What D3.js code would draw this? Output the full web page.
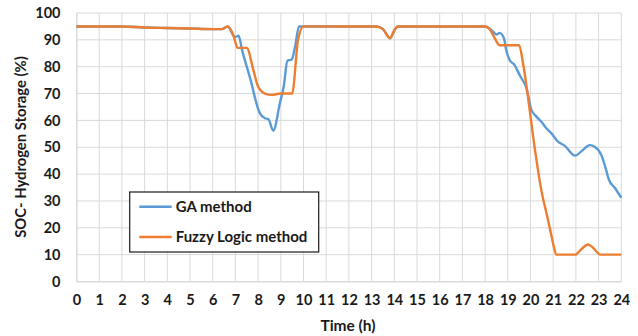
<!DOCTYPE html>
<html>
<head>
<meta charset="utf-8">
<script src="https://d3js.org/d3.v7.min.js"></script>
<style>
    body { margin: 0; background: #fff; }
    text { font-family: Lato, "Liberation Sans", sans-serif; font-weight: bold; fill: #1a1a1a; }
</style>
</head>
<body>
<svg id="chart" width="638" height="336"></svg>
<script>
    // values
    var gaTime = [0, 1, 2, 3, 4, 5, 6, 6.4, 6.66, 6.98, 7.14, 7.3, 7.64, 8.08, 8.3, 8.45, 8.67, 8.96, 9.14, 9.29, 9.48, 9.63, 9.8,
        13.2, 13.5, 13.81, 14.0, 14.16, 18.0, 18.3, 18.5, 18.64, 18.83, 18.93, 19.08, 19.3, 19.52, 19.82, 20.04, 20.26, 20.48,
        20.7, 20.92, 21.21, 21.5, 21.97, 22.31, 22.61, 22.83, 23.12, 23.3, 23.45, 23.71, 24];
    var gaSoc = [95, 95, 95, 94.6, 94.4, 94.2, 94, 94, 95, 91, 91.5, 86, 76, 62.6, 60.8, 60.5, 56.2, 66.4, 73.2, 82.2, 82.7, 87.5, 95,
        95, 94, 90.6, 93.5, 95, 95, 93.5, 92, 92.6, 90.6, 86.2, 82.5, 80.6, 76.9, 72, 63.9, 61.4, 59.5,
        57.1, 55.2, 52.1, 50.6, 46.9, 49, 50.8, 50.2, 47.1, 42.5, 38, 34.9, 31.2];

    var fuzzyTime = [0, 1, 2, 3, 4, 5, 6, 6.4, 6.66, 6.9, 7.1, 7.5, 7.79, 8.0, 8.3, 8.6, 9.0, 9.5, 9.76, 10.0,
        13.2, 13.5, 13.81, 14.0, 14.16, 18.0, 18.2, 18.4, 18.64, 19.5, 19.67, 19.89, 20.1, 20.33, 20.5, 20.7, 20.9,
        21.02, 21.14, 21.97, 22.24, 22.53, 22.7, 23.09, 24];
    var fuzzySoc = [95, 95, 95, 94.6, 94.4, 94.2, 94, 94, 95, 92, 87, 87, 78.8, 72.6, 70, 69.5, 70, 70, 90, 95,
        95, 94, 90.6, 93.5, 95, 95, 94, 91, 88, 88, 81.3, 68.8, 55, 41.5, 33, 25.6, 18,
        13.2, 10, 10, 12, 13.8, 13, 10, 10];

    var xTicks = d3.range(0, 25, 1);
    var yTicks = d3.range(0, 101, 10);
    var seriesNames = ["GA method", "Fuzzy Logic method"];
    var seriesColors = ["#5B9BD5", "#ED7D31"];

    var svg = d3.select("#chart");
    var x = d3.scaleLinear().domain([0, 24]).range([76.5, 621.3]);
    var y = d3.scaleLinear().domain([0, 100]).range([281.5, 13]);

    // grid
    var grid = svg.append("g");
    grid.selectAll(".vx").data(xTicks).enter().append("line")
        .attr("x1", d => x(d)).attr("x2", d => x(d))
        .attr("y1", y(0)).attr("y2", y(100))
        .attr("stroke", "#d9d9d9").attr("stroke-width", 1);
    grid.selectAll(".hy").data(yTicks).enter().append("line")
        .attr("x1", x(0)).attr("x2", x(24))
        .attr("y1", d => y(d)).attr("y2", d => y(d))
        .attr("stroke", "#d9d9d9").attr("stroke-width", 1);

    // axes (labels only, lines come from grid)
    var xAxis = svg.append("g").attr("transform", "translate(0," + y(0) + ")")
        .call(d3.axisBottom(x).tickValues(xTicks).tickSize(0).tickPadding(10).tickFormat(d3.format("d")));
    var yAxis = svg.append("g").attr("transform", "translate(" + x(0) + ",0)")
        .call(d3.axisLeft(y).tickValues(yTicks).tickSize(0).tickPadding(16).tickFormat(d3.format("d")));
    [xAxis, yAxis].forEach(function (a) {
        a.select(".domain").attr("stroke", "#d9d9d9");
        a.selectAll("text").attr("font-size", 14.5).attr("font-family", null).attr("fill", "#1a1a1a");
    });
    xAxis.selectAll("text").attr("dy", "0.9em");

    svg.append("text").attr("x", 348).attr("y", 331)
        .attr("text-anchor", "middle").attr("font-size", 15.5).text("Time (h)");
    svg.append("text")
        .attr("transform", "translate(26,147) rotate(-90)")
        .attr("text-anchor", "middle").attr("font-size", 14.8).text("SOC- Hydrogen Storage (%)");

    // lines
    var line = d3.line().x(d => x(d[0])).y(d => y(d[1])).curve(d3.curveMonotoneX);
    var ga = gaTime.map((t, i) => [t, gaSoc[i]]);
    var fuzzy = fuzzyTime.map((t, i) => [t, fuzzySoc[i]]);
    [ga, fuzzy].forEach(function (s, i) {
        svg.append("path").datum(s).attr("d", line)
            .attr("fill", "none").attr("stroke", seriesColors[i])
            .attr("stroke-width", 2.4).attr("stroke-linejoin", "round");
    });

    // legend
    var lg = svg.append("g");
    lg.append("rect").attr("x", 129.7).attr("y", 192).attr("width", 189).attr("height", 60)
        .attr("fill", "#fff").attr("stroke", "#1a1a1a").attr("stroke-width", 1.2);
    seriesNames.forEach(function (n, i) {
        var ly = 206.7 + i * 30.3;
        lg.append("line").attr("x1", 139.3).attr("x2", 171.7).attr("y1", ly).attr("y2", ly)
            .attr("stroke", seriesColors[i]).attr("stroke-width", 2.4);
        lg.append("text").attr("x", 175.7).attr("y", ly).attr("dy", "0.35em")
            .attr("font-size", 15).text(n);
    });
</script>
</body>
</html>
